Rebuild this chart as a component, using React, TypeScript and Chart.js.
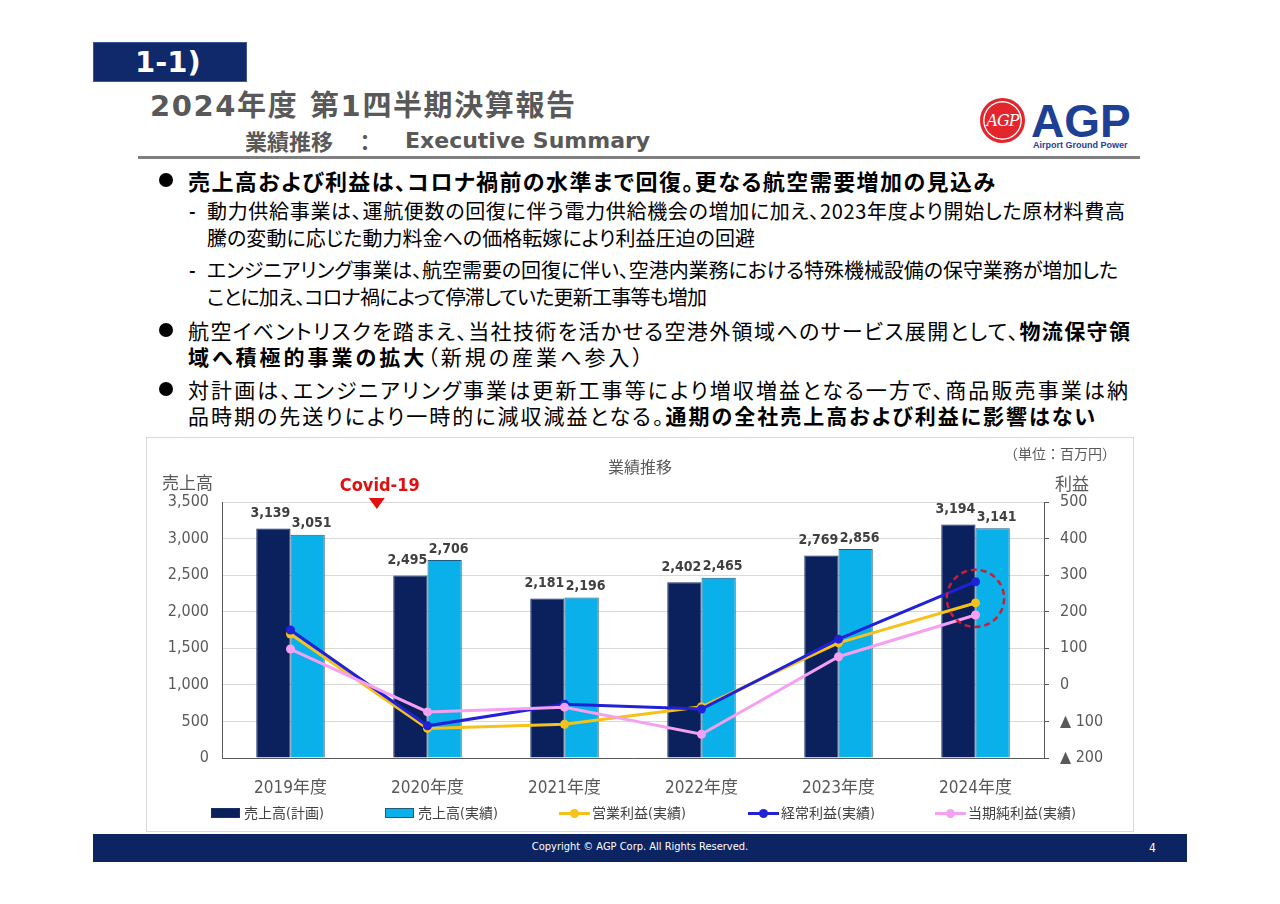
import React, { useEffect, useLayoutEffect, useRef, useState } from 'react';
import { Chart, registerables } from 'chart.js';

Chart.register(...registerables);

// ---------------- data ----------------
const categories = ['2019年度', '2020年度', '2021年度', '2022年度', '2023年度', '2024年度'];
const salesPlan = [3139, 2495, 2181, 2402, 2769, 3194];
const salesActual = [3051, 2706, 2196, 2465, 2856, 3141];
const operatingProfit = [139, -119, -108, -60, 115, 224];
const ordinaryProfit = [150, -112, -53, -66, 125, 282];
const netProfit = [98, -74, -61, -135, 77, 191];
const seriesNames = ['売上高(計画)', '売上高(実績)', '営業利益(実績)', '経常利益(実績)', '当期純利益(実績)'];
const salesTickValues = [0, 500, 1000, 1500, 2000, 2500, 3000, 3500];
const profitTickValues = [-200, -100, 0, 100, 200, 300, 400, 500];

// ---------------- styles ----------------
const NAVY = '#0b215e';
const SKY = '#0ab0ea';
const YELLOW = '#f5c21b';
const BLUE = '#2121d8';
const PINK = '#f5a0f2';
const GRAY = '#595959';
const CF = '"DejaVu Sans Condensed", "Liberation Sans", "Noto Sans CJK JP", sans-serif';
const BODY = '"Noto Sans CJK JP", sans-serif';

const overlayPlugin = {
  id: 'overlay',
  afterDatasetsDraw(chart: any) {
    const ctx = chart.ctx;
    const area = chart.chartArea;
    // bar value labels
    ctx.save();
    ctx.font = 'bold 14px "DejaVu Sans Condensed", "DejaVu Sans", sans-serif';
    ctx.fillStyle = '#404040';
    ctx.textAlign = 'center';
    ctx.textBaseline = 'middle';
    [0, 1].forEach((di) => {
      const meta = chart.getDatasetMeta(di);
      meta.data.forEach((bar: any, i: number) => {
        const v = chart.data.datasets[di].data[i] as number;
        const dx = di === 0 ? -3 : 4;
        const dy = di === 0 ? 15 : 11;
        ctx.fillText(v.toLocaleString('en-US'), bar.x + dx, bar.y - dy);
      });
    });
    ctx.restore();

    // Covid-19 marker
    const xs = chart.scales.x;
    const x0 = xs.getPixelForValue(0);
    const x1 = xs.getPixelForValue(1);
    const cx = x0 + (x1 - x0) * 0.63;
    ctx.save();
    ctx.fillStyle = '#e01010';
    ctx.beginPath();
    ctx.moveTo(cx - 8, area.top - 4);
    ctx.lineTo(cx + 8, area.top - 4);
    ctx.lineTo(cx, area.top + 7);
    ctx.closePath();
    ctx.fill();
    ctx.font = 'bold 18px "DejaVu Sans Condensed", "DejaVu Sans", sans-serif';
    ctx.textAlign = 'center';
    ctx.textBaseline = 'middle';
    ctx.fillText('Covid-19', cx + 3, area.top - 16);
    ctx.restore();

    // dashed circle around latest profit points
    const last = categories.length - 1;
    const ys: number[] = [2, 3, 4].map((di) => chart.getDatasetMeta(di).data[last].y);
    const minY = Math.min(...ys);
    const maxY = Math.max(...ys);
    const ccx = xs.getPixelForValue(last);
    const ccy = (minY + maxY) / 2;
    const r = (maxY - minY) / 2 + 12;
    ctx.save();
    ctx.strokeStyle = '#c81e3c';
    ctx.lineWidth = 2.5;
    ctx.setLineDash([6, 4]);
    ctx.beginPath();
    ctx.arc(ccx, ccy, r, 0, Math.PI * 2);
    ctx.stroke();
    ctx.restore();
  },
};

function ProfitChart() {
  const ref = useRef<HTMLCanvasElement>(null);
  useEffect(() => {
    if (!ref.current) return;
    const lineDs = (label: string, data: number[], color: string, order: number) => ({
      type: 'line' as const,
      label,
      data,
      yAxisID: 'y1',
      borderColor: color,
      backgroundColor: color,
      borderWidth: 3,
      pointRadius: 4.5,
      pointBackgroundColor: color,
      pointBorderWidth: 0,
      tension: 0,
      order,
    });
    const chart = new Chart(ref.current, {
      type: 'bar',
      data: {
        labels: categories,
        datasets: [
          {
            type: 'bar',
            label: seriesNames[0],
            data: salesPlan,
            yAxisID: 'y',
            backgroundColor: NAVY,
            borderColor: '#1a2f66',
            borderWidth: 1,
            categoryPercentage: 0.5,
            barPercentage: 1.0,
            order: 4,
          },
          {
            type: 'bar',
            label: seriesNames[1],
            data: salesActual,
            yAxisID: 'y',
            backgroundColor: SKY,
            borderColor: '#1f5a80',
            borderWidth: 1,
            categoryPercentage: 0.5,
            barPercentage: 1.0,
            order: 5,
          },
          lineDs(seriesNames[2], operatingProfit, YELLOW, 3),
          lineDs(seriesNames[3], ordinaryProfit, BLUE, 2),
          lineDs(seriesNames[4], netProfit, PINK, 1),
        ] as any,
      },
      options: {
        responsive: false,
        animation: false,
        layout: { padding: { top: 65, left: 0, right: 0, bottom: 0 } },
        plugins: {
          legend: { display: false },
          tooltip: { enabled: false },
          title: { display: false },
        },
        scales: {
          x: {
            offset: true,
            grid: { display: false },
            border: { display: true, color: GRAY, width: 1 },
            ticks: { color: GRAY, font: { size: 17, family: CF }, padding: 12 },
            afterFit: (s: any) => {
              s.height = 74;
            },
          },
          y: {
            position: 'left',
            min: salesTickValues[0],
            max: salesTickValues[salesTickValues.length - 1],
            ticks: {
              stepSize: salesTickValues[1] - salesTickValues[0],
              color: GRAY,
              font: { size: 16, family: CF },
              padding: 13,
              callback: (v: any) => Number(v).toLocaleString('en-US'),
            },
            grid: { color: '#d9d9d9', drawTicks: false },
            border: { display: true, color: GRAY, width: 1 },
            afterFit: (s: any) => {
              s.width = 76;
            },
          },
          y1: {
            position: 'right',
            min: profitTickValues[0],
            max: profitTickValues[profitTickValues.length - 1],
            ticks: {
              stepSize: profitTickValues[1] - profitTickValues[0],
              color: GRAY,
              font: { size: 16, family: CF },
              padding: 11,
              callback: (v: any) => (Number(v) < 0 ? '▲ ' + Math.abs(Number(v)) : String(v)),
            },
            grid: { drawOnChartArea: false, drawTicks: true, tickLength: 5, color: GRAY },
            border: { display: true, color: GRAY, width: 1 },
            afterFit: (s: any) => {
              s.width = 90;
            },
          },
        },
      } as any,
      plugins: [overlayPlugin],
    });
    return () => chart.destroy();
  }, []);
  return (
    <canvas
      ref={ref}
      width={988}
      height={395}
      style={{ position: 'absolute', left: 146, top: 437, width: 988, height: 395 }}
    />
  );
}

type FitProps = {
  x: number;
  y: number;
  w: number;
  size: number;
  weight?: number;
  color?: string;
  family?: string;
  palt?: boolean;
  children: React.ReactNode;
};

function FitLine({ x, y, w, size, weight = 400, color = '#000', family = BODY, palt = true, children }: FitProps) {
  const mref = useRef<HTMLSpanElement>(null);
  const [ls, setLs] = useState(0);
  useLayoutEffect(() => {
    const el = mref.current;
    if (!el) return;
    const nat = el.getBoundingClientRect().width;
    const n = Array.from(el.textContent || '').length;
    setLs(n > 1 ? (w - nat) / (n - 1) : 0);
  }, [w]);
  const lh = Math.round(size * 1.3);
  const base: React.CSSProperties = {
    position: 'absolute',
    left: x,
    top: y - lh / 2,
    fontSize: size,
    lineHeight: lh + 'px',
    fontWeight: weight,
    color,
    fontFamily: family,
    whiteSpace: 'nowrap',
    fontFeatureSettings: palt ? '"palt"' : 'normal',
  };
  return (
    <>
      <span ref={mref} style={{ ...base, visibility: 'hidden' }}>
        {children}
      </span>
      <div style={{ ...base, letterSpacing: ls }}>{children}</div>
    </>
  );
}

function Txt({
  x,
  y,
  size,
  children,
  color = GRAY,
  weight = 400,
  family = BODY,
  align = 'left',
}: {
  x: number;
  y: number;
  size: number;
  children: React.ReactNode;
  color?: string;
  weight?: number;
  family?: string;
  align?: 'left' | 'center' | 'right';
}) {
  const lh = Math.round(size * 1.3);
  const style: React.CSSProperties = {
    position: 'absolute',
    top: y - lh / 2,
    fontSize: size,
    lineHeight: lh + 'px',
    color,
    fontWeight: weight,
    fontFamily: family,
    whiteSpace: 'nowrap',
  };
  if (align === 'left') style.left = x;
  else if (align === 'right') style.right = 1280 - x;
  else {
    style.left = x - 300;
    style.width = 600;
    style.textAlign = 'center';
  }
  return <div style={style}>{children}</div>;
}

const Bullet = ({ y }: { y: number }) => (
  <div
    style={{
      position: 'absolute',
      left: 159,
      top: y - 7,
      width: 14,
      height: 14,
      borderRadius: '50%',
      background: '#000',
    }}
  />
);

const Dash = ({ y }: { y: number }) => (
  <Txt x={189} y={y - 1} size={18} color="#000" weight={700}>
    -
  </Txt>
);

const legendLayout = [
  { x: 211, kind: 'bar', color: NAVY, edge: '#1a2f66' },
  { x: 385, kind: 'bar', color: SKY, edge: '#1f5a80' },
  { x: 559, kind: 'line', color: YELLOW },
  { x: 748, kind: 'line', color: BLUE },
  { x: 935, kind: 'line', color: PINK },
];

function Legend() {
  const cy = 813;
  return (
    <>
      {legendLayout.map((it, i) => (
        <React.Fragment key={i}>
          {it.kind === 'bar' ? (
            <div
              style={{
                position: 'absolute',
                left: it.x,
                top: cy - 5,
                width: 29,
                height: 10,
                background: it.color,
                boxSizing: 'border-box',
                border: `1px solid ${it.edge}`,
              }}
            />
          ) : (
            <>
              <div
                style={{
                  position: 'absolute',
                  left: it.x,
                  top: cy - 1.5,
                  width: 31,
                  height: 3,
                  background: it.color,
                }}
              />
              <div
                style={{
                  position: 'absolute',
                  left: it.x + 15.5 - 4.5,
                  top: cy - 4.5,
                  width: 9,
                  height: 9,
                  borderRadius: '50%',
                  background: it.color,
                }}
              />
            </>
          )}
          <Txt x={it.x + 33} y={cy} size={14} color="#404040" family={CF}>
            {seriesNames[i]}
          </Txt>
        </React.Fragment>
      ))}
    </>
  );
}

export default function App() {
  return (
    <div
      style={{
        position: 'absolute',
        left: 0,
        top: 0,
        width: 1280,
        height: 904,
        background: '#fff',
        overflow: 'hidden',
        fontFamily: BODY,
      }}
    >
      {/* header box */}
      <div
        style={{
          position: 'absolute',
          left: 93,
          top: 42,
          width: 154,
          height: 40,
          boxSizing: 'border-box',
          background: '#10296a',
          border: '1px solid #3a5a9a',
        }}
      />
      <Txt x={135} y={62} size={29} color="#fff" weight={700} family='"DejaVu Sans", sans-serif'>
        1-1)
      </Txt>

      {/* titles */}
      <FitLine x={150} y={106} w={425} size={29} weight={700} color={GRAY} family='"DejaVu Sans", "Noto Sans CJK JP", sans-serif' palt={false}>
        2024年度 第1四半期決算報告
      </FitLine>
      <Txt x={245} y={140} size={22} weight={700} color={GRAY}>
        業績推移
      </Txt>
      <Txt x={354} y={140} size={22} weight={700} color={GRAY}>
        ：
      </Txt>
      <Txt x={405} y={140} size={22} weight={700} color={GRAY} family='"DejaVu Sans", sans-serif'>
        Executive Summary
      </Txt>
      <div style={{ position: 'absolute', left: 138, top: 156, width: 1002, height: 3, background: '#808080' }} />

      {/* logo */}
      <div
        style={{
          position: 'absolute',
          left: 980,
          top: 98,
          width: 45,
          height: 45,
          borderRadius: '50%',
          background: '#e3262c',
          boxSizing: 'border-box',
          border: '3px solid #e3262c',
          boxShadow: 'inset 0 0 0 1.5px #fff',
        }}
      />
      <Txt x={1002.5} y={120} size={16} color="#fff" weight={400} family='"DejaVu Serif", serif' align="center">
        <span style={{ fontStyle: 'italic', letterSpacing: -1 }}>AGP</span>
      </Txt>
      <Txt x={1031} y={121} size={46} color="#1d3f94" weight={700} family='"Liberation Sans", sans-serif'>
        AGP
      </Txt>
      <Txt x={1033} y={145} size={9} color="#1d3f94" weight={700} family='"Liberation Sans", sans-serif'>
        Airport Ground Power
      </Txt>

      {/* bullets */}
      <Bullet y={180} />
      <FitLine x={188} y={180} w={807} size={22} weight={700}>
        売上高および利益は、コロナ禍前の水準まで回復。更なる航空需要増加の見込み
      </FitLine>
      <Dash y={211} />
      <FitLine x={207} y={211} w={918} size={20}>
        動力供給事業は、運航便数の回復に伴う電力供給機会の増加に加え、2023年度より開始した原材料費高
      </FitLine>
      <FitLine x={207} y={238} w={548} size={20}>
        騰の変動に応じた動力料金への価格転嫁により利益圧迫の回避
      </FitLine>
      <Dash y={270} />
      <FitLine x={207} y={270} w={911} size={20}>
        エンジニアリング事業は、航空需要の回復に伴い、空港内業務における特殊機械設備の保守業務が増加した
      </FitLine>
      <FitLine x={207} y={297} w={500} size={20}>
        ことに加え、コロナ禍によって停滞していた更新工事等も増加
      </FitLine>
      <Bullet y={330} />
      <FitLine x={188} y={330} w={942} size={21}>
        航空イベントリスクを踏まえ、当社技術を活かせる空港外領域へのサービス展開として、<b>物流保守領</b>
      </FitLine>
      <FitLine x={188} y={356} w={455} size={21}>
        <b>域へ積極的事業の拡大</b>（新規の産業へ参入）
      </FitLine>
      <Bullet y={389} />
      <FitLine x={188} y={389} w={940} size={21}>
        対計画は、エンジニアリング事業は更新工事等により増収増益となる一方で、商品販売事業は納
      </FitLine>
      <FitLine x={188} y={415} w={907} size={21}>
        品時期の先送りにより一時的に減収減益となる。<b>通期の全社売上高および利益に影響はない</b>
      </FitLine>

      {/* chart frame */}
      <div
        style={{
          position: 'absolute',
          left: 146,
          top: 437,
          width: 988,
          height: 395,
          boxSizing: 'border-box',
          border: '1px solid #d9d9d9',
          background: '#fff',
        }}
      />
      <ProfitChart />
      <Txt x={640} y={466} size={16} align="center">
        業績推移
      </Txt>
      <Txt x={1116} y={453} size={14} align="right">
        （単位：百万円）
      </Txt>
      <Txt x={162} y={482} size={17}>
        売上高
      </Txt>
      <Txt x={1055} y={483} size={17}>
        利益
      </Txt>
      <Legend />

      {/* footer */}
      <div style={{ position: 'absolute', left: 93, top: 834, width: 1094, height: 28, background: '#0c2461' }} />
      <Txt x={640} y={847} size={11} color="#fff" family={CF} align="center">
        Copyright © AGP Corp. All Rights Reserved.
      </Txt>
      <Txt x={1149} y={848} size={12} color="#fff" family={CF}>
        4
      </Txt>
    </div>
  );
}
